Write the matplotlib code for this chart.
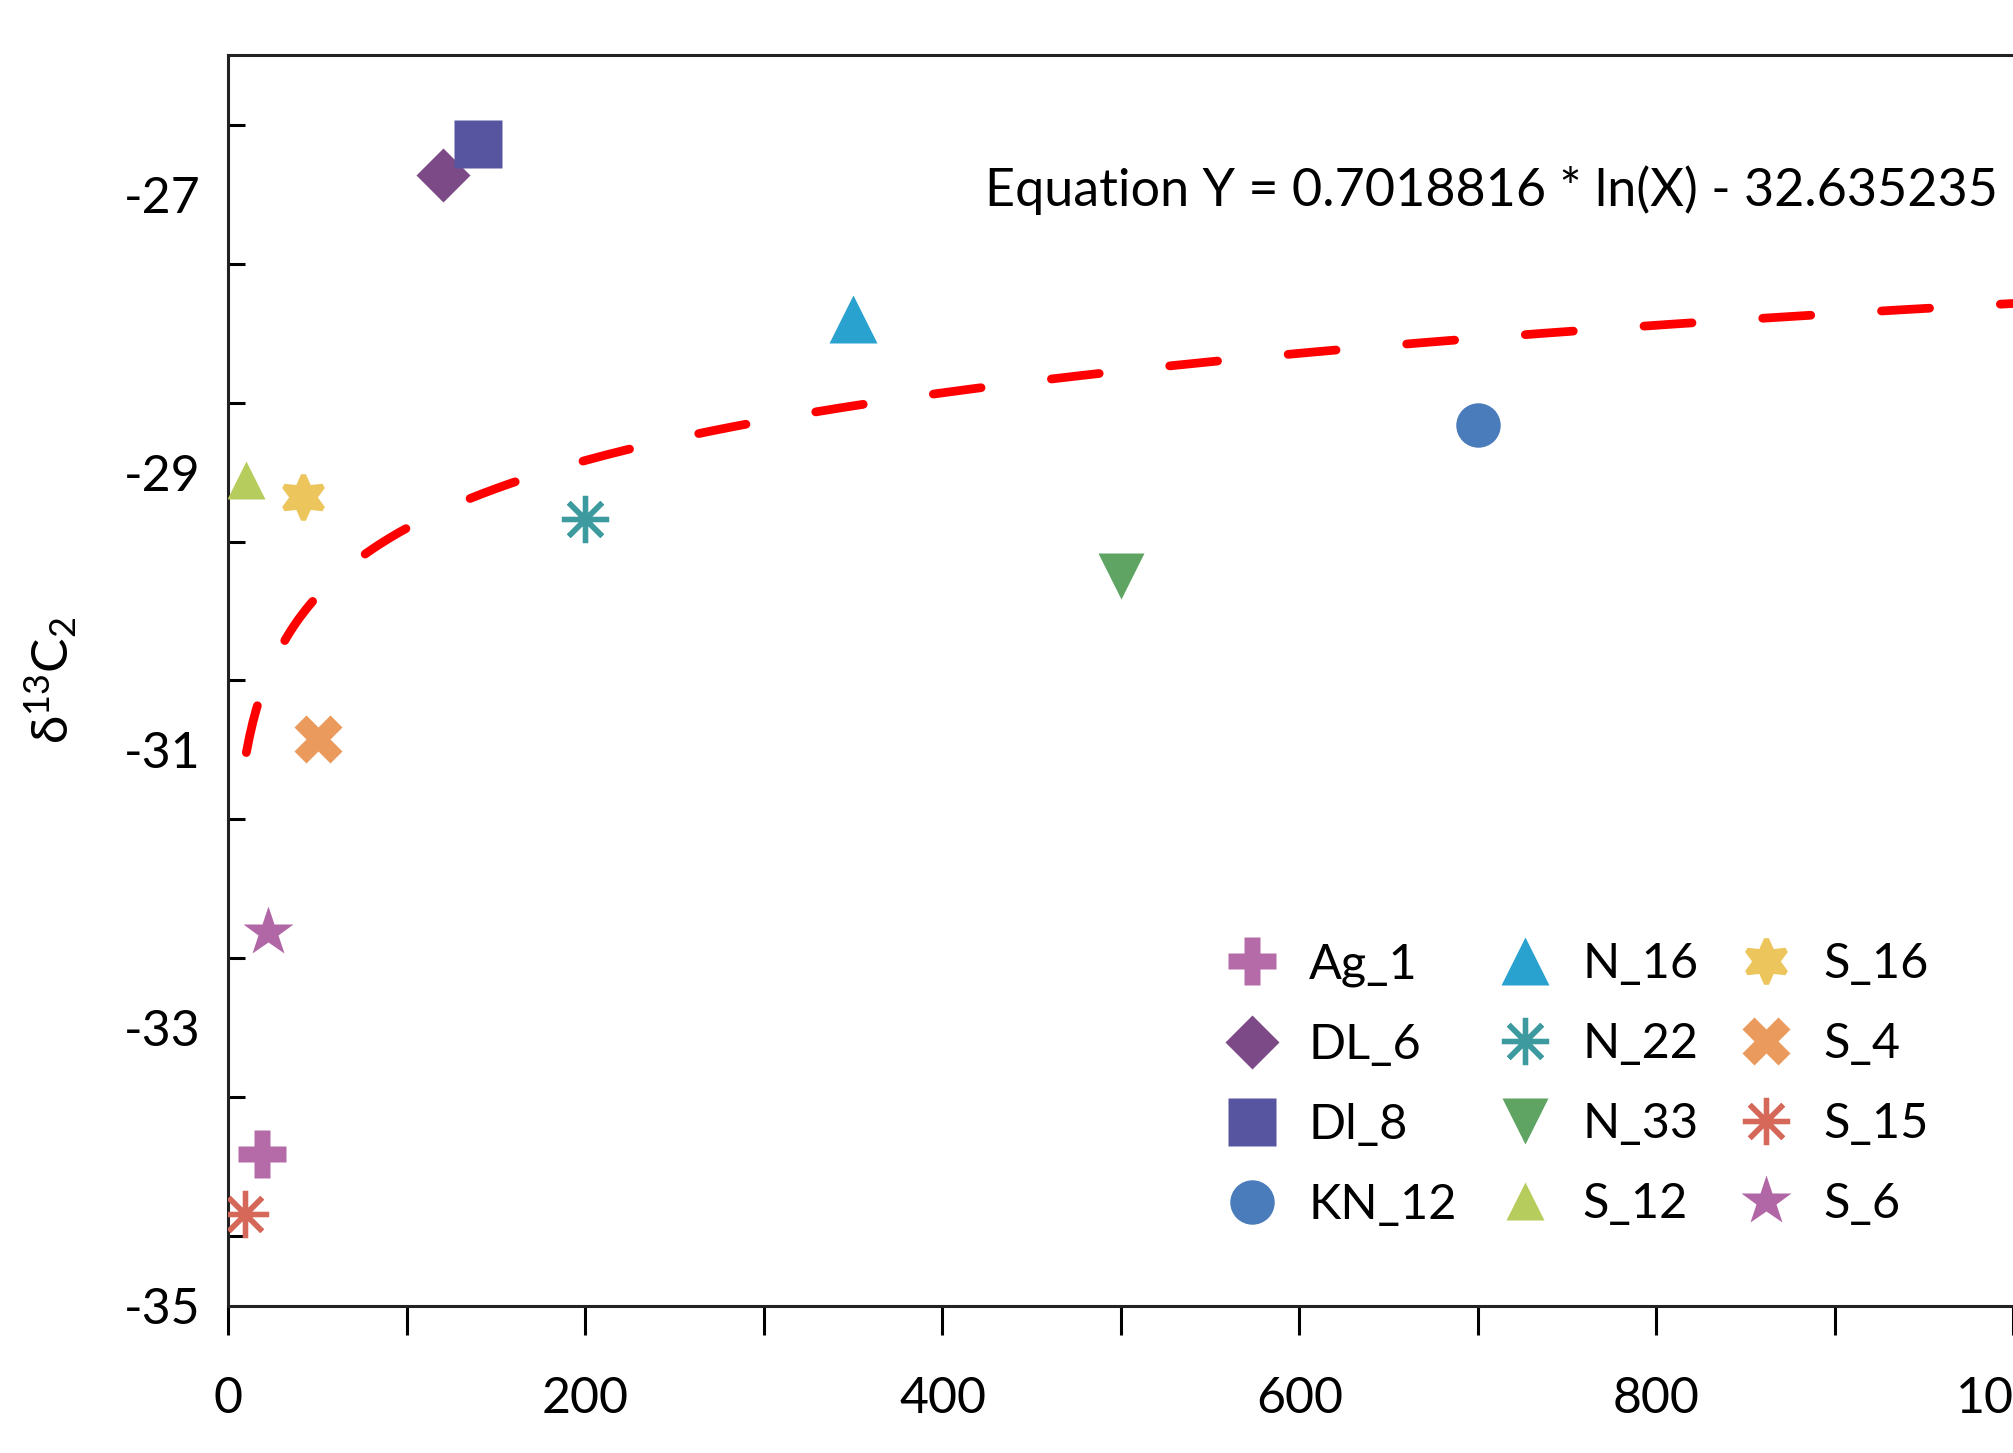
import numpy as np
import matplotlib
matplotlib.use('Agg')
from matplotlib import pyplot as plt

plt.rcParams['font.family'] = ['Lato', 'DejaVu Sans']
plt.rcParams['mathtext.default'] = 'regular'

# samples and their values
names = ['Ag_1', 'DL_6', 'Dl_8', 'KN_12', 'N_16', 'N_22',
         'N_33', 'S_12', 'S_16', 'S_4', 'S_15', 'S_6']
x_vals = [19, 120, 140, 700, 350, 200, 500, 10, 42, 50, 9, 22]
y_vals = [-33.91, -26.86, -26.64, -28.66, -27.90, -29.34,
          -29.75, -29.06, -29.18, -30.92, -34.34, -32.31]

colors = ['#B56BA8', '#7B4A87', '#5855A0', '#4A7BBA', '#2AA2D0', '#3D9A9E',
          '#5FA463', '#B6CD5E', '#ECC65C', '#EA9A5C', '#D6685A', '#B166A6']
markers = ['P', 'D', 's', 'o', '^', (8, 2, 0), 'v', '^', (6, 1, 0), 'X', (8, 2, 0), '*']
msizes = [34, 27, 34, 32, 34, 34, 33, 28, 32, 34, 34, 38]

# fitted curve Y = a * ln(X) + b
fit_a = 0.7018816
fit_b = -32.635235
fit_x = np.linspace(10, 1100, 600)

fig = plt.figure(figsize=(20.13, 14.53), dpi=100)
ax = fig.add_axes([0.1135, 0.1014, 0.9754, 0.8606])

ax.plot(fit_x, fit_a * np.log(fit_x) + fit_b, color='#FF0000', lw=6.3,
        linestyle=(0, (5.5, 8.1)), dash_capstyle='round', zorder=2)

for n, xv, yv, c, m, s in zip(names, x_vals, y_vals, colors, markers, msizes):
    if isinstance(m, tuple):
        ax.plot(xv, yv, linestyle='none', marker=m, ms=s, color=c, mec=c,
                mew=3.8, label=n, zorder=3)
    else:
        ax.plot(xv, yv, linestyle='none', marker=m, ms=s, color=c, mec='none',
                label=n, zorder=3)

ax.text(424, -26.97, 'Equation Y = 0.7018816 * ln(X) - 32.635235',
        fontsize=37.5, ha='left', va='center')

ax.set_xlim(0, 1100)
ax.set_ylim(-35, -26)
ax.set_xticks(np.arange(0, 1001, 200))
ax.set_xticks(np.arange(100, 1001, 200), minor=True)
ax.set_yticks(np.arange(-35, -26, 2))
ax.set_yticks(np.arange(-34.5, -26, 1), minor=True)
ax.tick_params(axis='x', which='both', direction='out', length=21, width=2.2,
               labelsize=36, pad=30)
ax.tick_params(axis='y', which='major', direction='in', length=0,
               labelsize=36, pad=20)
ax.tick_params(axis='y', which='minor', direction='in', length=12, width=2.2)
ax.set_yticklabels(['-35', '-33', '-31', '-29', '-27'])

for sp in ax.spines.values():
    sp.set_linewidth(2.2)
    sp.set_color('#222222')

ax.set_ylabel('δ$^{13}$C$_2$', fontsize=37)
ax.yaxis.set_label_coords(-0.076, 0.5)
ax.set_xlabel('C$_2$ (ppmv)', fontsize=36)
ax.xaxis.set_label_coords(0.472, -0.219)

ax.legend(ncol=3, loc='upper left', bbox_to_anchor=(0.499, 0.306),
          frameon=False, fontsize=35, handlelength=1.0, handletextpad=0.67,
          columnspacing=0.9, labelspacing=0.74, borderaxespad=0)

fig.savefig('out.png', dpi=100)
